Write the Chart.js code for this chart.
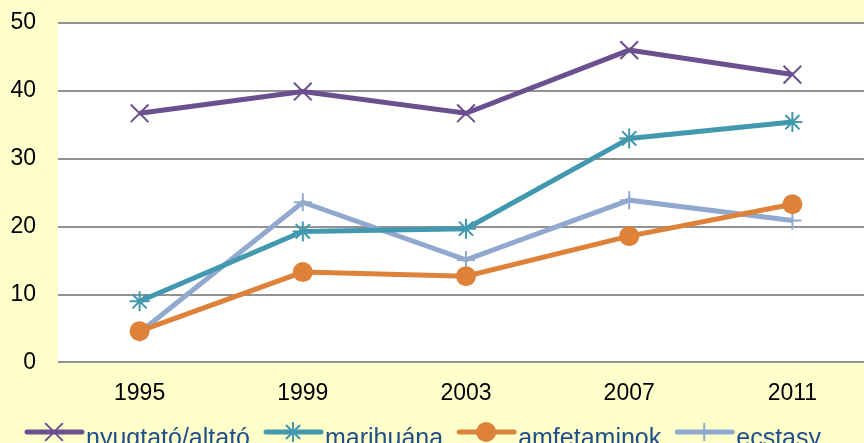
<!DOCTYPE html>
<html>
<head>
<meta charset="utf-8">
<script src="https://cdn.jsdelivr.net/npm/chart.js@4.4.0/dist/chart.umd.min.js"></script>
<style>
  html, body { margin: 0; padding: 0; overflow: hidden; background: #FFFFCC; }
  #chart { display: block; }
</style>
</head>
<body>
<canvas id="chart" width="874" height="443"></canvas>
<script>
// data
const years = ["1995", "1999", "2003", "2007", "2011"];
const nyugtato = [36.7, 39.9, 36.7, 46.0, 42.4];
const marihuana = [9.0, 19.3, 19.7, 33.0, 35.4];
const amfetaminok = [4.6, 13.3, 12.7, 18.6, 23.3];
const ecstasy = [4.4, 23.6, 15.1, 23.9, 20.9];
const seriesNames = ["nyugtató/altató", "marihuána", "amfetaminok", "ecstasy"];
const yTicks = [0, 10, 20, 30, 40, 50];

const FONT = "'Liberation Sans', Arial, sans-serif";

function makeSet(label, data, color, style, radius, bw){
    return {
        label: label,
        data: data,
        borderColor: color,
        backgroundColor: color,
        borderWidth: 5,
        tension: 0,
        pointStyle: style,
        pointRadius: radius,
        pointHoverRadius: radius,
        pointBorderColor: color,
        pointBackgroundColor: color,
        pointBorderWidth: bw
    };
}

// white plot area on yellow background
const plotBg = {
    id: "plotBg",
    beforeDraw(chart){
        const ctx = chart.ctx, a = chart.chartArea;
        ctx.save();
        ctx.fillStyle = "#FFFFCC";
        ctx.fillRect(0, 0, chart.width, chart.height);
        ctx.fillStyle = "#FFFFFF";
        ctx.fillRect(a.left, a.top, a.right - a.left, a.bottom - a.top);
        ctx.restore();
    }
};

// legend at bottom: line sample with marker, then text
const bottomLegend = {
    id: "bottomLegend",
    afterDraw(chart){
        const ctx = chart.ctx;
        let x = 27;
        const y = 432;
        ctx.save();
        ctx.font = "25px " + FONT;
        ctx.textBaseline = "alphabetic";
        chart.data.datasets.forEach(ds => {
            ctx.strokeStyle = ds.borderColor;
            ctx.lineWidth = 5;
            ctx.lineCap = "round";
            ctx.beginPath();
            ctx.moveTo(x, y);
            ctx.lineTo(x + 55, y);
            ctx.stroke();
            ctx.lineCap = "butt";
            ctx.fillStyle = ds.pointBackgroundColor;
            ctx.strokeStyle = ds.pointBorderColor;
            ctx.lineWidth = ds.pointBorderWidth;
            Chart.helpers.drawPoint(ctx, {pointStyle: ds.pointStyle, radius: ds.pointRadius, borderWidth: ds.pointBorderWidth}, x + 27, y);
            ctx.fillStyle = "#1F4E8C";
            ctx.fillText(ds.label, x + 59, 446);
            x += 59 + ctx.measureText(ds.label).width + 16;
        });
        ctx.restore();
    }
};

new Chart(document.getElementById("chart"), {
    type: "line",
    data: {
        labels: years,
        datasets: [
            makeSet(seriesNames[0], nyugtato, "#6B4F8F", "crossRot", 12.5, 2),
            makeSet(seriesNames[1], marihuana, "#4198AF", "star", 10, 2),
            makeSet(seriesNames[2], amfetaminok, "#DE8139", "circle", 10, 0),
            makeSet(seriesNames[3], ecstasy, "#92A9CF", "cross", 9, 2)
        ]
    },
    options: {
        responsive: false,
        animation: false,
        devicePixelRatio: 1,
        // canvas is a bit wider than the window: plot area runs past the right edge
        layout: { autoPadding: false, padding: { top: 23, left: 0, right: 0, bottom: 19 } },
        plugins: {
            legend: { display: false },
            tooltip: { enabled: false }
        },
        scales: {
            x: {
                offset: true,
                afterFit(scale){ scale.paddingLeft = 0; scale.paddingRight = 0; },
                grid: { display: false, drawTicks: false },
                border: { display: false },
                ticks: { color: "#000", font: { family: FONT, size: 23 }, padding: 17 }
            },
            y: {
                min: 0,
                max: 50,
                afterBuildTicks(scale){ scale.ticks = yTicks.map(v => ({value: v})); },
                afterFit(scale){ scale.width = 58; scale.paddingTop = 0; scale.paddingBottom = 0; },
                grid: { color: "#929292", lineWidth: 2, drawTicks: false },
                border: { display: false },
                ticks: { color: "#000", font: { family: FONT, size: 23 }, padding: 22 }
            }
        }
    },
    plugins: [plotBg, bottomLegend]
});
</script>
</body>
</html>
